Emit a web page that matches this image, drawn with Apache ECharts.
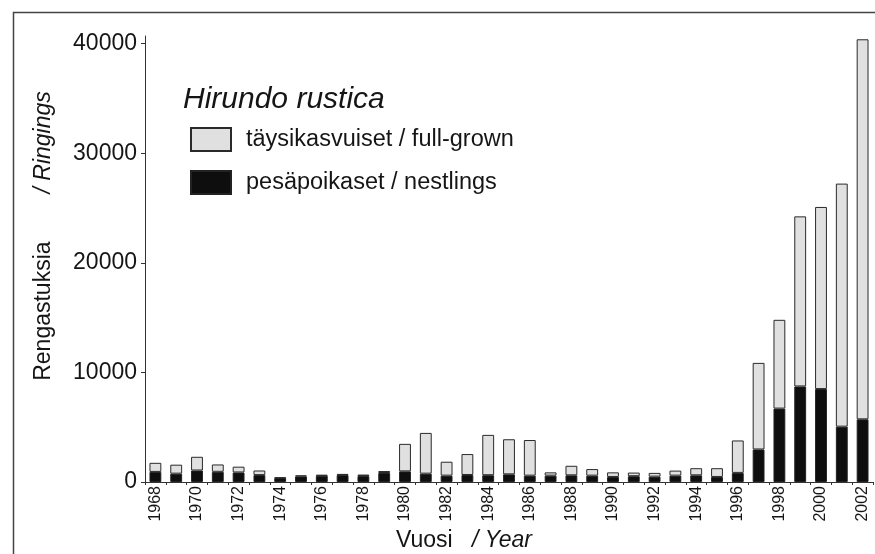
<!DOCTYPE html>
<html>
<head>
<meta charset="utf-8">
<script src="https://cdn.jsdelivr.net/npm/echarts@6/dist/echarts.min.js"></script>
<style>html,body{margin:0;padding:0;background:#fff}#c{width:875px;height:554px}</style>
</head>
<body>
<div id="c"></div>
<script>
const years = ['1968','1969','1970','1971','1972','1973','1974','1975','1976','1977','1978','1979','1980','1981','1982','1983','1984','1985','1986','1987','1988','1989','1990','1991','1992','1993','1994','1995','1996','1997','1998','1999','2000','2001','2002'];
const totals = [1750,1580,2300,1600,1400,1050,420,600,650,740,680,1000,3480,4480,1850,2550,4300,3900,3830,880,1480,1180,880,860,830,1040,1260,1260,3790,10870,14800,24240,25100,27230,40400];
const nestlings = [920,760,1050,930,870,630,360,510,570,630,540,820,970,760,580,640,620,700,580,580,610,580,460,530,490,580,610,460,830,2970,6700,8720,8480,5050,5720];
const fullGrown = totals.map((t, i) => t - nestlings[i]);
const yTicks = [0, 10000, 20000, 30000, 40000];

const chart = echarts.init(document.getElementById('c'), null, {renderer: 'canvas'});
const ff = '"Liberation Sans", Arial, Helvetica, sans-serif';
chart.setOption({
  animation: false,
  backgroundColor: '#fff',
  textStyle: {fontFamily: ff, color: '#151515'},
  title: {
    text: 'Hirundo rustica',
    left: 178, top: 80,
    textStyle: {fontFamily: ff, fontSize: 30, fontStyle: 'italic', fontWeight: 'normal', color: '#151515'}
  },
  legend: {
    orient: 'vertical',
    left: 185, top: 122,
    icon: 'rect',
    itemWidth: 40, itemHeight: 23, itemGap: 18,
    data: ['täysikasvuiset / full-grown', 'pesäpoikaset / nestlings'],
    textStyle: {fontFamily: ff, fontSize: 23.5, color: '#151515', padding: [0, 0, 0, 10]},
    selectedMode: false
  },
  grid: {left: 145, right: 2, top: 36, bottom: 72, containLabel: false, outerBoundsMode: 'none'},
  xAxis: {
    type: 'category',
    data: years,
    name: '{a|Vuosi}{b|   / Year}{p|}',
    nameLocation: 'middle',
    nameGap: 43,
    nameTextStyle: {
      rich: {
        a: {fontFamily: ff, fontSize: 23, color: '#151515'},
        b: {fontFamily: ff, fontSize: 23, fontStyle: 'italic', color: '#151515'},
        p: {width: 90}
      }
    },
    axisLine: {show: true, lineStyle: {color: '#333', width: 1}},
    axisTick: {show: true, length: 3, interval: 0, lineStyle: {color: '#333'}},
    axisLabel: {interval: 1, rotate: 90, fontSize: 16, color: '#151515', margin: 4, fontFamily: ff}
  },
  yAxis: {
    type: 'value',
    min: 0, max: 40700,
    name: '{p|}{a|Rengastuksia}{s|}{b|/ Ringings}',
    nameLocation: 'middle',
    nameGap: 90,
    nameRotate: 90,
    nameTextStyle: {
      rich: {
        a: {fontFamily: ff, fontSize: 23, color: '#151515'},
        b: {fontFamily: ff, fontSize: 23, fontStyle: 'italic', color: '#151515'},
        s: {width: 48},
        p: {width: 46}
      }
    },
    splitLine: {show: false},
    axisLine: {show: true, lineStyle: {color: '#333', width: 1}},
    axisTick: {show: true, length: 4, customValues: yTicks, lineStyle: {color: '#333'}},
    axisLabel: {customValues: yTicks, formatter: v => String(v), fontSize: 23, color: '#151515', margin: 8, fontFamily: ff}
  },
  series: [
    {
      name: 'pesäpoikaset / nestlings',
      type: 'bar',
      stack: 'r',
      data: nestlings,
      barWidth: '57%',
      itemStyle: {color: '#0e0e0e', borderColor: '#222', borderWidth: 1}
    },
    {
      name: 'täysikasvuiset / full-grown',
      type: 'bar',
      stack: 'r',
      data: fullGrown,
      barWidth: '57%',
      itemStyle: {color: '#e0e0e0', borderColor: '#2a2a2a', borderWidth: 1}
    }
  ],
  graphic: [
    {type: 'rect', left: 11, top: 10, shape: {width: 900, height: 600}, style: {fill: 'none', stroke: '#444', lineWidth: 1.5}, silent: true, z: 100}
  ]
});
</script>
</body>
</html>
